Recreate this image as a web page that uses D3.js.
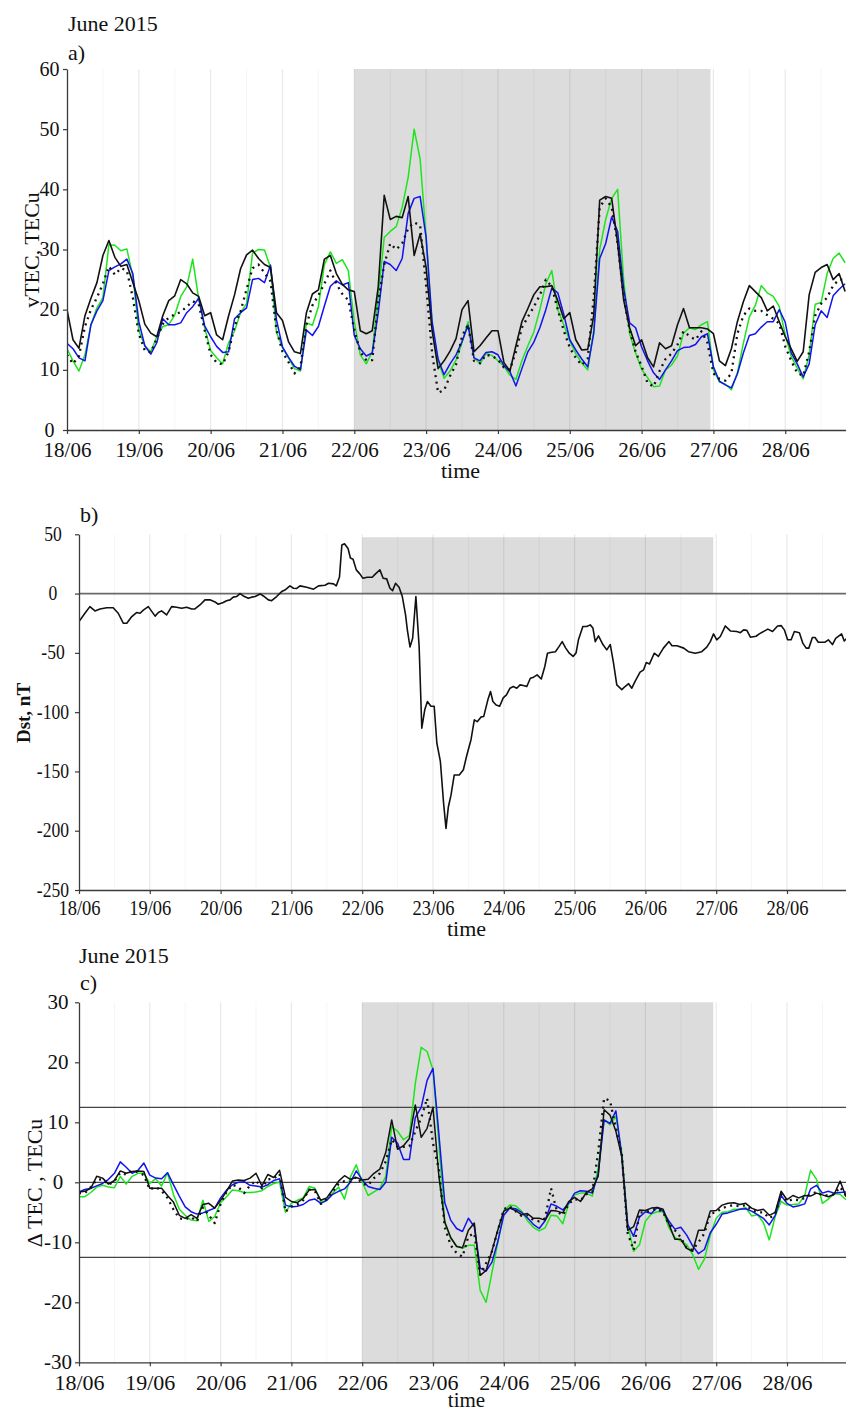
<!DOCTYPE html>
<html>
<head>
<meta charset="utf-8">
<script src="https://cdn.jsdelivr.net/npm/d3@7/dist/d3.min.js"></script>
<style>
  body { margin: 0; background: #fff; }
  svg text { font-family: "Liberation Serif", "Times New Roman", Times, "DejaVu Serif", serif; fill: #111; }
</style>
</head>
<body>
<svg id="fig" width="846" height="1414"></svg>
<script>
// ---- time axis ----------------------------------------------------------
const dayLabels = ["18/06", "19/06", "20/06", "21/06", "22/06", "23/06",
                   "24/06", "25/06", "26/06", "27/06", "28/06"];
const stormStartHour = 96;     // 22/06 00 UT
const stormEndHour = 215;      // 26/06 23 UT
// samples every 2 hours from 18/06 00 UT
const sampleHours = d3.range(0, 261, 2);

// ---- a) vertical TEC, TECu -------------------------------------------------
const vtecTicks = [0, 10, 20, 30, 40, 50, 60];
const vtecBlack = [
  20, 15, 13.6, 19, 21.9, 24.5, 29, 31.5, 28.7, 27.2,
  27.5, 24.5, 21.5, 17.6, 16.1, 15.5, 19, 21.5, 22.3, 25,
  24.3, 22.8, 22.2, 19, 19.5, 15.8, 15, 19, 22.5, 26.8,
  29.1, 29.9, 28.5, 27.5, 27, 19.5, 18.2, 14.7, 13, 12.7,
  19.5, 22.6, 23.3, 28.4, 29, 26, 24.2, 23.3, 23, 16.5,
  16, 16.5, 23.8, 39, 35, 35.5, 35.3, 38.8, 29, 32.6,
  27, 16.5, 10.2, 11.5, 13.1, 15.2, 20, 21.5, 13, 14,
  15.3, 16.5, 16.5, 11.2, 9.8, 14, 18, 20.2, 22.5, 23.8,
  23.8, 24, 21.5, 18.5, 19.5, 15, 13.3, 13.4, 19, 38.2,
  38.8, 38.5, 31, 21.6, 17, 14, 15, 12, 10.5, 14.5,
  13.5, 14, 17.5, 20.2, 17, 17, 17, 16.8, 16, 11.5,
  10.7, 13.5, 18, 21.3, 24, 23, 22, 19.8, 20.6, 18,
  15.5, 13.5, 11.4, 13, 22.5, 26.2, 27, 27.5, 25, 26,
  23
];
const vtecGreen = [
  13.5, 11.5, 9.8, 12.5, 17.5, 20.3, 22, 30.8, 30.7, 29.8,
  30.1, 25.5, 16.5, 14, 13, 15.5, 17.2, 17.5, 19.1, 22.2,
  23.8, 28.4, 21.8, 17, 13.2, 12, 11, 14.5, 16.5, 19.5,
  21, 29.4, 30, 29.9, 27, 16.2, 13.7, 12, 10.2, 9.8,
  17.8, 17.4, 20.5, 27.5, 29.6, 27.7, 28.3, 26.5, 18, 12.5,
  11, 13, 22.2, 32, 33, 33.8, 37, 42, 50, 45,
  32, 17.5, 11.5, 8.6, 9.8, 11.6, 14.5, 18, 12, 11,
  12.7, 12.4, 11.5, 10.6, 9.1, 8.4, 11.5, 14, 16.3, 20,
  24.3, 26.5, 20, 17.5, 14.8, 12.7, 11.1, 10, 16.6, 30,
  35, 38.5, 40, 24.9, 16, 12.8, 10.1, 8.7, 7.2, 7.3,
  10, 10.8, 12.3, 16.1, 17, 16.7, 17.5, 18, 10, 8,
  7.6, 6.7, 9.5, 14.4, 18.8, 20.7, 24, 22.8, 22.2, 20.5,
  15.8, 12.2, 10.3, 8.5, 12.5, 20.9, 21.2, 26, 28.5, 29.4,
  27.8
];
const vtecBlue = [
  14.4, 13.5, 12, 11.5, 17.5, 19.8, 21.5, 26.5, 27.1, 27.6,
  28.4, 26, 18, 14, 12.6, 14.5, 18.5, 17.5, 17.5, 17.8,
  19.5, 20.5, 21.9, 17.3, 15.5, 13.9, 12.9, 13, 18.5, 19.5,
  20.3, 25, 25.2, 24.5, 27.4, 18.3, 13.8, 12.1, 10.6, 10,
  16.6, 15.7, 17.2, 20.6, 23.9, 24.8, 24.1, 24.5, 15.7, 13.5,
  12.3, 12.8, 19.5, 28, 27.5, 26.5, 28.5, 36, 38.5, 38.8,
  32, 18, 11.8, 9.2, 11, 12.5, 14.7, 17.4, 12, 11.5,
  12.9, 13, 12.5, 10.7, 9.7, 7.3, 10.2, 13, 14.6, 17,
  20, 23.6, 22.8, 19.2, 15, 13.3, 11.8, 10.5, 16, 28.5,
  31, 35.4, 33, 23.5, 17.8, 17, 13.8, 11.5, 9.5, 8.4,
  10, 11.5, 13.2, 13.7, 13.8, 14.2, 15.5, 16, 10.5, 8.1,
  7.5, 7, 9.3, 12.8, 15.7, 16, 17.1, 18, 18, 20,
  17.9, 12.8, 11, 8.8, 11, 17.5, 19.8, 18.7, 22.3, 23.4,
  24.3
];
const vtecDotted = [
  12.5, 11, 12.3, 17.2, 20, 22, 24.3, 27.2, 25.8, 26.9,
  26.5, 22, 16, 13.2, 12.9, 15.2, 17.6, 18.7, 19.2, 19.6,
  20.5, 21.4, 20.9, 16.6, 12.5, 11.2, 10.9, 13, 17.3, 19.7,
  23.4, 26.9, 27.5, 26.1, 24.7, 16.6, 13, 11.3, 9.4, 10.5,
  17.5, 20.7, 22.4, 24.3, 26.5, 24.3, 22.6, 21.6, 16.6, 13,
  11.6, 11.6, 21.5, 27.5, 31, 30, 31, 33.5, 34.5, 34,
  24, 12.8, 6.2, 6.6, 9, 10.9, 15.6, 17.5, 11.5, 11.1,
  12.5, 12.3, 11.7, 10.4, 10, 13, 17, 18.8, 20.5, 22.4,
  25, 23.8, 20, 16.5, 13.7, 12, 10.8, 11.9, 22, 37,
  38.5, 37, 31, 22.2, 16.6, 13, 10.6, 7.8, 7.2, 9.8,
  11.8, 12.7, 14.2, 16.4, 15.6, 15, 16.4, 14.5, 9.4, 8.5,
  8.2, 9.4, 16, 19, 20.2, 19.8, 19.8, 19.1, 18.5, 17.7,
  13.9, 11.5, 9.5, 9, 13, 19, 21, 22, 24, 25,
  25
];

// ---- b) Dst index, nT (hourly readings) ------------------------------------
const dstTicks = [50, 0, -50, -100, -150, -200, -250];
const dstShadeTop = 47.5;
const dstHours = [
  0, 2, 3.7, 5.4, 7.1, 9.4, 11.6, 13.3, 15, 16.2, 17.9, 19.5, 20.7, 21.8, 23.5,
  25.8, 26.9, 28, 29.7, 31.4, 33.1, 34.8, 36.5, 38.2, 39.3, 41, 42.7, 44.4, 46.1, 47.2,
  48.9, 50, 51.2, 52.3, 53.4, 54.6, 55.7, 57.4, 58.5, 59.7, 61.4, 62.5, 64.2, 65.3, 67,
  68.7, 69.8, 71.5, 72.7, 73.8, 74.9, 77.2, 79.5, 81.2, 83.4, 84.6, 86.3, 87.2, 88.3, 89.1,
  90, 91.2, 92, 92.9, 94, 95.2, 96.2, 97.7, 99.4, 100.5, 102, 103.1, 104.3, 105.4, 106.3,
  107.3, 108.5, 109.6, 110.7, 111.3, 112.2, 113.1, 114.2, 115.3, 116.2, 117.2, 118.1, 119.3, 120.4, 121.3,
  122.5, 123.6, 124.4, 125.2, 126.1, 127.2, 128.9, 130.3, 131.4, 132.9, 134, 135, 136.3, 137.2, 138.6,
  139.5, 140.3, 141.4, 142.6, 143.8, 144.9, 146.1, 147.2, 148.4, 149.5, 150.6, 151.8, 153, 154.1, 155.3,
  156.7, 157.9, 158.8, 159.8, 161.5, 162.7, 163.8, 165, 166.2, 167.5, 168.5, 169.3, 170.8, 172.1, 173.3,
  174.2, 175, 176.1, 177.6, 178.9, 180.1, 181.2, 182.3, 184, 185.1, 186.3, 187.4, 188.5, 190.2, 191.4,
  192.3, 193.4, 195, 196.4, 198.1, 200, 201, 202.7, 205, 206.6, 208.9, 211.1, 212.8, 214, 215.1,
  216.2, 217.4, 219.1, 220.8, 223, 224.2, 225.3, 226.4, 227.6, 229.5, 230.6, 233.5, 235.1, 236.8, 238,
  239.1, 240.2, 241.4, 242.5, 244.2, 245.4, 246.5, 247.4, 248.6, 249.5, 250.6, 252.9, 254, 255.4, 256.5,
  258.5, 259.4, 260.6
];
const dstValues = [
  -23.6, -16.6, -11, -14.6, -13, -12, -12, -16.6, -25, -25, -19.4, -16, -16.6, -14, -11,
  -19, -16, -14.6, -18, -11, -11.5, -12.4, -11.5, -13, -13, -9.6, -5.3, -5.3, -7, -9,
  -7.5, -6, -5.3, -3, -2.5, 0, -2, -4, -3, -2.5, -0.3, -2, -5.3, -6, -2.5,
  1.7, 3, 6.5, 4.5, 4.3, 6.5, 5.3, 3.7, 6.5, 7, 8.7, 8.2, 6.5, 14, 41,
  42, 38, 30, 29, 20, 16.6, 13, 13.8, 13.8, 16.6, 20, 13, 12.4, 4.5, 2.5,
  8.7, 5.3, -2.5, -18, -30.6, -45, -37.7, -2.5, -44.7, -113.5, -98, -91, -95, -95, -126,
  -141.6, -177, -198, -180, -170, -153, -153, -148.6, -137, -123, -106.5, -108, -104, -103.6, -89.6,
  -82.6, -91, -94, -95, -88, -85.4, -79.8, -78.4, -79.8, -77, -77.5, -78.4, -71.4, -70.5, -68.6,
  -72, -61.5, -50.3, -49.7, -49, -44.7, -40.5, -46, -50.3, -53, -50, -39, -27.8, -27.8, -26.4,
  -29, -40.5, -35.7, -43, -47.5, -43, -58.7, -77, -81, -78.4, -76, -79.8, -74, -66.3, -64.3,
  -58.2, -59.3, -50.3, -53, -46, -40.5, -44, -44, -46, -49, -50.3, -49, -45.2, -40.5, -34,
  -39, -36.2, -27.3, -31.5, -32, -33, -30.6, -31, -36.8, -36, -34, -30, -32, -27.3, -27,
  -30.6, -39, -39, -32, -33, -42, -46, -46, -37, -37, -41, -41, -39, -43, -37.7,
  -34, -40, -37
];

// ---- c) TEC deviation, TECu ----------------------------------------------
const dtecTicks = [30, 20, 10, 0, -10, -20, -30];
const dtecThresholds = [12.5, -12.5];
const dtecBlack = [
  -1.6, -1.5, -1, 1, 0.7, -0.3, 0.3, 1.9, 1.5, 1.8,
  1.9, 1.8, -1, -1, -1, -2.2, -3.3, -5.5, -6, -5.4,
  -6, -3.7, -3.5, -4.3, -3, -1.5, 0.2, 0.4, 0.3, 0.7,
  1.5, -0.6, 1.3, 0.8, 2, -2.5, -3.2, -3.4, -2.7, -1.3,
  -1.2, -3, -2.6, -1.2, 0.2, 1.1, 0.5, 0.8, 0.4, 0.5,
  1.5, 2.2, 5, 10.4, 5.5, 6.1, 7.3, 12.9, 7.5, 9,
  12.5, 1, -6.6, -9.2, -10.7, -10.9, -8, -6.8, -15.5, -14.7,
  -11.4, -7.9, -4.8, -4.3, -4.7, -5.4, -5.2, -6, -6, -6.3,
  -4.7, -4.8, -5.1, -3.2, -2.5, -3.2, -1.7, -1.1, 1, 12.1,
  11.2, 8.5, 4.3, -8, -7.4, -4.6, -4.7, -4.3, -4.2, -4.5,
  -7, -9.5, -9.5, -11, -11.5, -8, -8, -4.8, -4.7, -3.8,
  -3.5, -3.4, -3.7, -3.5, -4.3, -4.7, -4.5, -5.5, -5, -1.5,
  -2.9, -2.2, -2.6, -2.2, -2.3, -1.8, -2.1, -2.4, -2, 0.2,
  -2.4
];
const dtecGreen = [
  -2.4, -2.4, -1.7, -0.8, -0.5, -0.8, -0.9, 1, -0.3, 1,
  1.5, 1.5, -0.2, 0.6, -0.6, 1.6, -2, -4.5, -5.5, -6.3,
  -6.4, -3, -6.5, -5.7, -3.4, -2.4, -1.3, -1.4, -1.7, -1.7,
  -1.6, -1.4, -0.7, -0.2, 0, -5, -3.5, -3, -2.6, -0.7,
  -1, -3.3, -3, -1.8, -0.8, -2.8, 0.9, 2.9, 0.1, -2.2,
  -1.6, -1, 1, 9.3, 8.5, 7.1, 7.8, 16.5, 22.5, 21.8,
  18.7, 6.5, -6.8, -9.3, -10.6, -11, -10.5, -10.5, -18, -20,
  -15, -10, -4.8, -3.8, -3.9, -4.8, -6.4, -7.5, -8.1, -7.6,
  -5.5, -5.6, -6.9, -3.5, -2.1, -1.8, -1.8, -2.3, 2.4, 10.4,
  9.6, 11, 5, -7, -11.5, -10.4, -6.5, -5.3, -4.9, -4.9,
  -7.6, -9.2, -9.8, -10.4, -12, -14.5, -12.8, -8.8, -6, -5,
  -4.9, -4.5, -4.5, -4.2, -5.6, -5.4, -6.7, -9.6, -5.7, -3.2,
  -3.8, -3.7, -3.6, -2.2, 2, 0.5, -3.5, -2.8, -1.9, -2,
  -2.9
];
const dtecBlue = [
  -1.6, -1.2, -1, -0.6, -0.2, 0.5, 1.5, 3.4, 2.5, 1.5,
  2, 3.2, 1.2, 0.7, 0.6, 1.6, -0.4, -2.3, -4.1, -4.9,
  -5.3, -5.1, -4.7, -4.3, -2.6, -1.3, -0.4, 0, 0.1, -0.5,
  -0.6, -0.8, -0.4, 0.3, 0.6, -3.8, -4.1, -4, -3.7, -3,
  -2.8, -3.5, -3, -2, -1.5, -1.1, 0, 1.9, 0.4, -0.7,
  -1, -1.2, 0, 7.5, 6.5, 3.8, 3.8, 10.8, 12.5, 17,
  19, 8, -3.4, -6.3, -7.7, -8.2, -6, -7.4, -14.3, -14.8,
  -13.3, -9.8, -5.5, -4.3, -4.4, -5, -5.9, -7, -7.7, -6.4,
  -3.6, -4, -4.6, -3.5, -1.8, -1.4, -1.5, -1.8, 1.4, 10.4,
  9.8, 11.9, 4.3, -7, -9, -5.8, -4.9, -5.2, -4.2, -4.8,
  -6.5, -7.8, -7.5, -8.8, -10.6, -11.9, -11.2, -8.4, -7, -5.3,
  -5.1, -4.8, -4.5, -4.4, -4.8, -5.4, -6, -7.1, -5.5, -2.2,
  -3.5, -4.1, -3.9, -3.6, -1.1, -0.5, -1.8, -1.5, -1.8, -1.7,
  -1.6
];
const dtecDotted = [
  -1.8, -1.8, -0.8, 0.4, 0.5, -0.4, 0.2, 1.6, 1.3, 1.9,
  1.7, 1.2, -1.2, -0.8, -1.4, -2.6, -4.5, -6, -6.2, -5.8,
  -6.5, -4.2, -5.5, -6.8, -3.6, -1.6, -0.4, -0.8, -1.8, -0.5,
  0.3, -1, 0.5, 0.6, 1.4, -4.9, -4, -3.7, -3, -1.2,
  -1.5, -3.6, -2.8, -1.5, -0.3, 0.2, 0.1, 0.9, -0.2, -0.5,
  0.7, 1.5, 3.5, 7.1, 5.9, 5.9, 6, 8.5, 10.7, 14,
  6.5, 2.1, -7.5, -10.5, -11.8, -12.4, -9, -8.5, -15.4, -13.5,
  -11.5, -8, -4.5, -4, -4.8, -5.6, -5.5, -6.3, -6.5, -6,
  -1, -4.8, -5.5, -3.6, -2.8, -3, -2, -1.6, 5, 14,
  13.6, 9, 4.8, -8.5, -11.3, -5, -5, -4.6, -4.4, -5,
  -7, -8, -9.2, -11, -11.3, -10, -8.5, -5.2, -5, -4.3,
  -4, -3.8, -4, -3.8, -4.6, -5, -5, -6, -5.3, -2,
  -3.2, -2.8, -3, -2.6, -2, -1.6, -2.2, -2.2, -2, -0.8,
  -2.2
];

// ---- styling -------------------------------------------------------------
const SERIF = '"Liberation Serif", "Times New Roman", Times, "DejaVu Serif", serif';
const COLORS = { black: "#111", green: "#1de51d", blue: "#1212f2",
                 shade: "#dcdcdc", axis: "#3a3a3a" };
const START = new Date(2015, 5, 18, 0, 0);
const hourToDate = h => new Date(START.getTime() + h * 3600e3);

const svg = d3.select("#fig");

function drawPanel(cfg) {
  const x = d3.scaleTime()
    .domain([START, hourToDate(cfg.endHour)])
    .range([cfg.left, cfg.right]);
  const y = d3.scaleLinear().domain(cfg.yDomain).range([cfg.bottom, cfg.top]);
  const g = svg.append("g").attr("font-family", SERIF);

  const clipId = "clip-" + cfg.id;
  svg.append("clipPath").attr("id", clipId).append("rect")
    .attr("x", cfg.left).attr("y", cfg.top)
    .attr("width", cfg.right - cfg.left).attr("height", cfg.bottom - cfg.top);

  // storm interval
  const shadeTop = cfg.shadeTop !== undefined ? y(cfg.shadeTop) : cfg.top;
  const shadeBottom = cfg.shadeBottom !== undefined ? y(cfg.shadeBottom) : cfg.bottom;
  g.append("rect")
    .attr("x", x(hourToDate(stormStartHour)))
    .attr("y", shadeTop)
    .attr("width", x(hourToDate(stormEndHour)) - x(hourToDate(stormStartHour)))
    .attr("height", shadeBottom - shadeTop)
    .attr("fill", COLORS.shade);

  // vertical grid: days and half days
  const gridHours = d3.range(12, cfg.endHour, 12);
  g.append("g").selectAll("line").data(gridHours).join("line")
    .attr("x1", h => x(hourToDate(h))).attr("x2", h => x(hourToDate(h)))
    .attr("y1", cfg.top).attr("y2", cfg.bottom)
    .attr("stroke", h => h % 24 === 0 ? "rgba(0,0,0,0.085)" : "rgba(0,0,0,0.035)")
    .attr("stroke-width", 1.2);

  // reference lines
  (cfg.hlines || []).forEach(hl => {
    g.append("line")
      .attr("x1", cfg.left).attr("x2", cfg.right)
      .attr("y1", y(hl.value)).attr("y2", y(hl.value))
      .attr("stroke", hl.color).attr("stroke-width", hl.width);
  });

  // series
  const lines = g.append("g").attr("clip-path", `url(#${clipId})`);
  cfg.series.forEach(s => {
    const pts = s.hours.map((h, i) => [h, s.values[i]]);
    const line = d3.line()
      .x(d => x(hourToDate(d[0])))
      .y(d => y(d[1]));
    lines.append("path")
      .attr("d", line(pts))
      .attr("fill", "none")
      .attr("stroke", s.color)
      .attr("stroke-width", s.width)
      .attr("stroke-linejoin", "round")
      .attr("stroke-dasharray", s.dash || null);
  });

  // axes
  const dayDates = dayLabels.map((_, i) => hourToDate(i * 24));
  const xAxis = g.append("g")
    .attr("transform", `translate(0,${cfg.bottom})`)
    .call(d3.axisBottom(x).tickValues(dayDates)
      .tickFormat((d, i) => dayLabels[i]).tickSize(4).tickSizeOuter(0));
  xAxis.selectAll("text")
    .attr("y", cfg.xLabelOffset).attr("dy", 0)
    .style("font-size", cfg.tickFont + "px");

  const yAxis = g.append("g")
    .attr("transform", `translate(${cfg.left},0)`)
    .call(d3.axisLeft(y).tickValues(cfg.yTicks)
      .tickFormat(d => String(d)).tickSize(4).tickSizeOuter(0));
  yAxis.selectAll("text")
    .attr("x", -cfg.yLabelCenter).attr("text-anchor", "middle")
    .attr("dy", "0.3em")
    .style("font-size", cfg.yTickFont + "px");

  [xAxis, yAxis].forEach(ax => {
    ax.attr("font-family", SERIF);
    ax.select(".domain").attr("stroke", COLORS.axis).attr("stroke-width", 1.3);
    ax.selectAll(".tick line").attr("stroke", COLORS.axis).attr("stroke-width", 1.2);
    ax.selectAll("text").attr("fill", "#111").style("font-family", SERIF);
  });

  if (cfg.condense) {
    g.selectAll(".tick text").each(function () {
      const len = this.getComputedTextLength();
      d3.select(this).attr("textLength", len * cfg.condense)
        .attr("lengthAdjust", "spacingAndGlyphs");
    });
  }

  // axis titles
  g.append("text")
    .attr("x", (cfg.left + cfg.right) / 2 + 4).attr("y", cfg.timeBaseline)
    .attr("text-anchor", "middle").style("font-size", cfg.timeSize + "px")
    .style("font-family", SERIF).text("time");

  g.append("text")
    .attr("transform", `translate(${cfg.yTitleX},${cfg.yTitleY}) rotate(-90)`)
    .attr("text-anchor", "middle")
    .style("font-size", cfg.yTitleSize + "px")
    .style("font-weight", cfg.yTitleWeight || "normal")
    .style("font-family", SERIF)
    .text(cfg.yTitle);

  (cfg.captions || []).forEach(c => {
    g.append("text").attr("x", c.x).attr("y", c.y)
      .style("font-size", "22px").style("font-family", SERIF).text(c.text);
  });
}

// a) vTEC
drawPanel({
  id: "a", left: 67, right: 846, top: 69, bottom: 430, endHour: 260.3,
  yDomain: [0, 60], yTicks: vtecTicks, tickFont: 21, yTickFont: 20, yLabelCenter: 17.5,
  xLabelOffset: 27, timeBaseline: 478, timeSize: 22,
  yTitle: "vTEC, TECu", yTitleX: 39, yTitleY: 250, yTitleSize: 22,
  captions: [{ x: 68, y: 31, text: "June 2015" }, { x: 68, y: 60, text: "a)" }],
  series: [
    { hours: sampleHours, values: vtecGreen, color: COLORS.green, width: 1.5 },
    { hours: sampleHours, values: vtecBlue, color: COLORS.blue, width: 1.5 },
    { hours: sampleHours, values: vtecBlack, color: COLORS.black, width: 1.6 },
    { hours: sampleHours, values: vtecDotted, color: COLORS.black, width: 2.3, dash: "2,4.5" }
  ]
});

// b) Dst
drawPanel({
  id: "b", left: 79, right: 846, top: 534.3, bottom: 890, endHour: 260,
  yDomain: [-250, 50], yTicks: dstTicks, tickFont: 21, yTickFont: 20, yLabelCenter: 26,
  xLabelOffset: 25, timeBaseline: 936, timeSize: 22, condense: 0.88,
  shadeTop: dstShadeTop, shadeBottom: 0,
  hlines: [{ value: 0, color: "#6a6a6a", width: 1.6 }],
  yTitle: "Dst, nT", yTitleX: 30, yTitleY: 713, yTitleSize: 19, yTitleWeight: "bold",
  captions: [{ x: 80, y: 522, text: "b)" }],
  series: [
    { hours: dstHours, values: dstValues, color: COLORS.black, width: 1.6 }
  ]
});

// c) ΔTEC
drawPanel({
  id: "c", left: 79, right: 846, top: 1002.3, bottom: 1362.3, endHour: 260,
  yDomain: [-30, 30], yTicks: dtecTicks, tickFont: 22, yTickFont: 21, yLabelCenter: 21,
  xLabelOffset: 28, timeBaseline: 1407, timeSize: 21,
  hlines: [
    { value: 0, color: "#444", width: 1.2 },
    { value: dtecThresholds[0], color: "#444", width: 1.2 },
    { value: dtecThresholds[1], color: "#444", width: 1.2 }
  ],
  yTitle: "\u0394 TEC , TECu", yTitleX: 42, yTitleY: 1183, yTitleSize: 22,
  captions: [{ x: 79, y: 963, text: "June 2015" }, { x: 80, y: 990, text: "c)" }],
  series: [
    { hours: sampleHours, values: dtecGreen, color: COLORS.green, width: 1.5 },
    { hours: sampleHours, values: dtecBlue, color: COLORS.blue, width: 1.5 },
    { hours: sampleHours, values: dtecBlack, color: COLORS.black, width: 1.5 },
    { hours: sampleHours, values: dtecDotted, color: COLORS.black, width: 2.3, dash: "2,4.5" }
  ]
});
</script>
</body>
</html>
